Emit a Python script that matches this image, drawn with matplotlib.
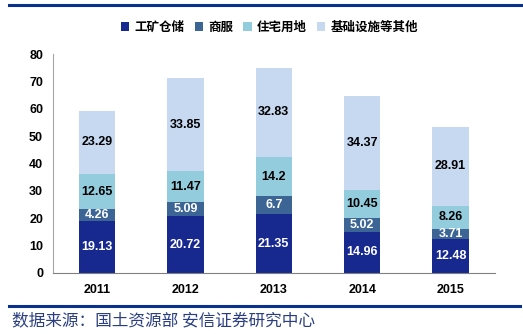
import matplotlib.pyplot as plt
import numpy as np
from matplotlib.lines import Line2D

plt.rcParams['font.family'] = ['Liberation Sans', 'Noto Sans CJK SC', 'DejaVu Sans']

# datos
anios = ['2011', '2012', '2013', '2014', '2015']
series = ['工矿仓储', '商服', '住宅用地', '基础设施等其他']
gongkuang = [19.13, 20.72, 21.35, 14.96, 12.48]
shangfu = [4.26, 5.09, 6.7, 5.02, 3.71]
zhuzhai = [12.65, 11.47, 14.2, 10.45, 8.26]
jichu = [23.29, 33.85, 32.83, 34.37, 28.91]

colores = ['#17298F', '#3C6596', '#93CDDD', '#C6D9F0']
color_texto = ['white', 'white', 'black', 'black']

fig = plt.figure(figsize=(5.23, 3.34), dpi=100)
ax = fig.add_axes([0.101, 0.183, 0.845, 0.655])

x = np.arange(len(anios))
base = np.zeros(len(anios))
for nombre, vals, col, tc in zip(series, [gongkuang, shangfu, zhuzhai, jichu], colores, color_texto):
    vals = np.array(vals)
    ax.bar(x, vals, 0.41, bottom=base, color=col, label=nombre, edgecolor='none')
    for xi, b, v in zip(x, base, vals):
        ax.text(xi, b + v / 2, f"{v:g}", ha='center', va='center', fontsize=9,
                fontweight='bold', color=tc)
    base += vals

ax.set_xlim(-0.5, 4.5)
ax.set_ylim(0, 80)
ax.set_yticks(range(0, 81, 10))
ax.set_xticks(x)
ax.set_xticklabels(anios)
ax.tick_params(length=0, labelsize=9)
ax.tick_params(axis='y', pad=7)
ax.tick_params(axis='x', pad=8)
for lbl in ax.get_xticklabels() + ax.get_yticklabels():
    lbl.set_fontweight('bold')
for s in ['top', 'right']:
    ax.spines[s].set_visible(False)
ax.spines['left'].set_color('#A6A6A6')
ax.spines['bottom'].set_color('#808080')

# leyenda
h, l = ax.get_legend_handles_labels()
fig.legend(h, l, loc='center', bbox_to_anchor=(0.515, 0.918), ncol=4, frameon=False,
           prop={'family': ['Noto Sans CJK SC'], 'size': 9, 'weight': 'bold'},
           handlelength=0.65, handleheight=0.65, handletextpad=0.4, columnspacing=0.85)

# líneas azules superior e inferior
fig.add_artist(Line2D([0.017, 1.0], [0.985, 0.985], color='#0B318F', lw=2.2, transform=fig.transFigure))
fig.add_artist(Line2D([0.017, 0.995], [0.083, 0.083], color='#0B318F', lw=2.2, transform=fig.transFigure))

fig.text(0.022, 0.04, '数据来源：国土资源部 安信证券研究中心', fontsize=12, color='#2B3F80',
         family=['Noto Sans CJK SC'], style='italic', va='center')

fig.savefig('out.png', dpi=100)
